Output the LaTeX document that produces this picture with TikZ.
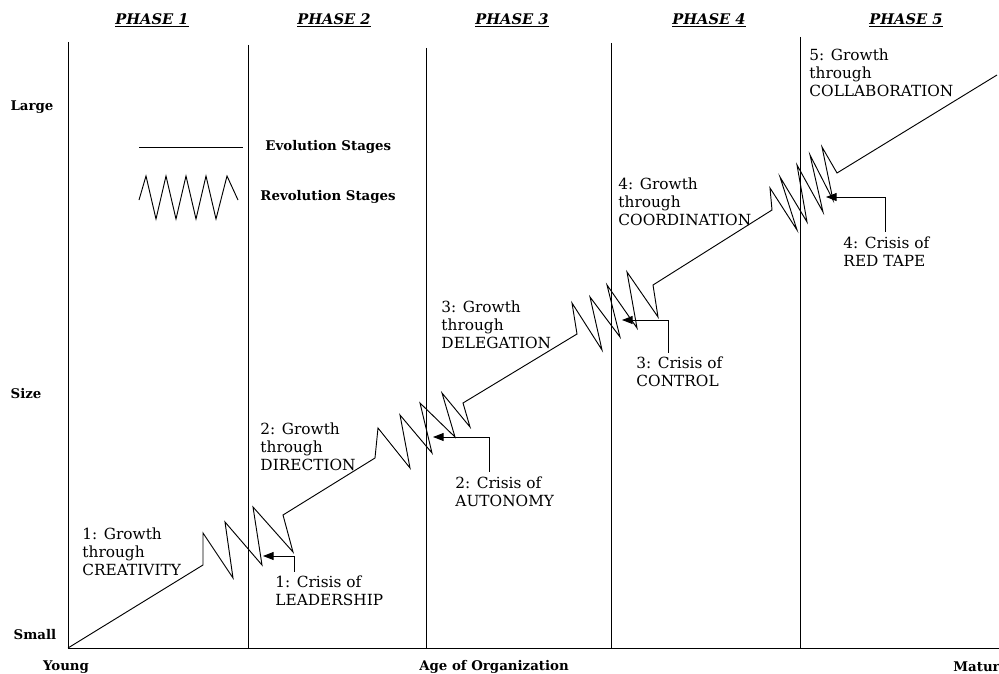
\documentclass[tikz,border=0pt]{standalone}
\usepackage{fontspec}
\setmainfont{DejaVu Serif}
\usepackage{tikz}
\usetikzlibrary{arrows.meta,calc}

\begin{document}
\begin{tikzpicture}[x=0.75pt,y=-0.75pt,line width=0.7pt,>={Triangle[length=8pt,width=6pt]},
  lbl/.style={inner sep=0pt,align=left,anchor=west,font=\fontsize{11.5}{13.5}\selectfont},
  axl/.style={inner sep=0pt,font=\fontsize{10}{12}\selectfont\bfseries},
  phs/.style={inner sep=0pt,font=\fontsize{11}{13}\selectfont\bfseries\itshape}]
\useasboundingbox (0,0) rectangle (999,674);
\coordinate (o) at (68,648);
\draw (o) -- (999,648);
\foreach \x/\t in {68/42,248/45,426/48,611/43,800/37} \draw (\x,\t) -- (\x,648);
\foreach \x/\n in {152/1,334/2,512/3,709/4,906/5} \node[phs] (p\n) at (\x,20) {\underline{PHASE \n}};
\node[axl] (large) at (32,107) {Large};
\node[axl] (size) at (26,394) {Size};
\node[axl] (small) at (35,635) {Small};
\node[axl] (young) at (66,667) {Young};
\node[axl] (age) at (494,667) {Age of Organization};
\node[axl,anchor=west] (matur) at (953,667) {Matur};
\draw (139,147) -- (243,147);
\node[axl,anchor=west] (evo) at (265,147) {Evolution Stages};
\draw (139,200) -- (146,176) -- (156,219) -- (166,176) -- (176,219) -- (186,176) -- (196,219) -- (206,176) -- (216,219) -- (227,176) -- (238,200);
\node[axl,anchor=west] (rev) at (260,197) {Revolution Stages};
\draw (o) -- (203,565)
  -- (203,533) -- (233,578) -- (225,522) -- (262,565) -- (253,507) -- (293,552) -- (283,515) -- (375,458)
  -- (378,428) -- (410,468) -- (400,415) -- (432,453) -- (420,403) -- (455,437) -- (442,393) -- (470,427) -- (463,403) -- (577,334)
  -- (572,303) -- (602,350) -- (590,297) -- (620,337) -- (607,285) -- (637,328) -- (627,272) -- (658,317) -- (653,285) -- (772,210)
  -- (770,188) -- (797,230) -- (780,177) -- (807,222) -- (797,165) -- (823,212) -- (810,155) -- (833,200) -- (822,147) -- (837,173) -- (997,75);
\node[lbl] (g1) at (82,552) {1: Growth\\through\\CREATIVITY};
\node[lbl] (g2) at (260,447) {2: Growth\\through\\DIRECTION};
\node[lbl] (g3) at (441,325) {3: Growth\\through\\DELEGATION};
\node[lbl] (g4) at (618,202) {4: Growth\\through\\COORDINATION};
\node[lbl] (g5) at (809,73) {5: Growth\\through\\COLLABORATION};
\node[lbl] (c1) at (275,591) {1: Crisis of\\LEADERSHIP};
\node[lbl] (c2) at (455,492) {2: Crisis of\\AUTONOMY};
\node[lbl] (c3) at (636,372) {3: Crisis of\\CONTROL};
\node[lbl] (c4) at (843,252) {4: Crisis of\\RED TAPE};
\coordinate (t1) at (263,556);
\coordinate (t2) at (433,437);
\coordinate (t3) at (622,320);
\coordinate (t4) at (826,197);
\draw[->] ($(c1.north west)+(19,-4)$) |- (t1);
\draw[->] ($(c2.north west)+(34,-5)$) |- (t2);
\draw[->] ($(c3.north west)+(32,-4)$) |- (t3);
\draw[->] ($(c4.north west)+(42,-5)$) |- (t4);
\end{tikzpicture}
\end{document}
